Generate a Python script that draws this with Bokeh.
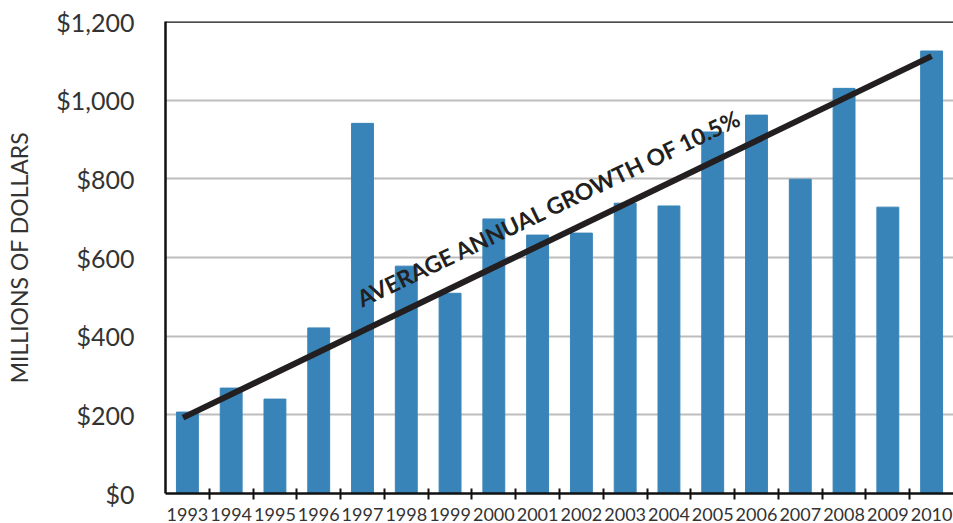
import math
from bokeh.plotting import figure
from bokeh.models import Range1d, FixedTicker, NumeralTickFormatter, Span
from bokeh.core.properties import value
from bokeh.embed import file_html
from bokeh.resources import INLINE

# ---- data ----
years = list(range(1993, 2011))
revenue = [207, 268, 240, 421, 941, 578, 509, 698, 657, 662, 738, 731,
           919, 962, 799, 1030, 728, 1125]
trend_years = [1992.9, 2010]
trend_values = [193, 1112]
trend_label = "AVERAGE ANNUAL GROWTH OF 10.5%"
label_start_year = 1997.2
y_ticks = [0, 200, 400, 600, 800, 1000, 1200]
y_axis_title = "MILLIONS OF DOLLARS"

FONT = "Lato"
TEXT_COLOR = "#333333"
BAR_COLOR = "#3884b8"
W, H = 953, 523
BORDER_L, BORDER_T = 165, 21
BELOW_PANEL = 31
x_start, x_end = 1992.5, 2010.5
y_max = 1200
frame_w = W - BORDER_L
frame_h = H - BORDER_T - BELOW_PANEL
px_per_year = frame_w / (x_end - x_start)

p = figure(width=W, height=H, x_range=Range1d(x_start, x_end),
           y_range=Range1d(0, y_max), output_backend="svg",
           toolbar_location=None, min_border_left=BORDER_L,
           min_border_top=BORDER_T, min_border_right=0, min_border_bottom=0)
p.outline_line_color = None
p.background_fill_color = "white"
p.border_fill_color = "white"

# bars
p.vbar(x=years, top=revenue, width=0.5, color=BAR_COLOR)

# grid
p.xgrid.visible = False
p.ygrid.ticker = FixedTicker(ticks=y_ticks)
p.ygrid.grid_line_color = "#bdbdbd"
p.ygrid.grid_line_width = 2

# top border
p.add_layout(Span(location=y_max, dimension="width", line_color="#111111",
                  line_width=2.5))

# y axis
ya = p.yaxis[0]
ya.ticker = FixedTicker(ticks=y_ticks)
ya.formatter = NumeralTickFormatter(format="$0,0")
ya.major_tick_in = 0
ya.major_tick_out = 0
ya.minor_tick_in = 0
ya.minor_tick_out = 0
ya.axis_line_width = 2.5
ya.axis_line_color = "#111111"
ya.major_label_text_font = FONT
ya.major_label_text_font_size = "25px"
ya.major_label_text_color = TEXT_COLOR
ya.major_label_standoff = 31
ya.axis_label = y_axis_title
ya.axis_label_text_font = FONT
ya.axis_label_text_font_style = "normal"
ya.axis_label_text_font_size = "23px"
ya.axis_label_text_color = TEXT_COLOR
ya.axis_label_standoff = 20

# x axis: labels at bar centres, ticks at boundaries
xa = p.xaxis[0]
xa.ticker = FixedTicker(ticks=years, minor_ticks=[y + 0.5 for y in years[:-1]])
xa.major_tick_in = 0
xa.major_tick_out = 0
xa.minor_tick_in = 5
xa.minor_tick_out = 6
xa.minor_tick_line_width = 2
xa.minor_tick_line_color = "#111111"
xa.axis_line_width = 2.5
xa.axis_line_color = "#111111"
xa.major_label_text_font = FONT
xa.major_label_text_font_size = "18px"
xa.major_label_text_color = TEXT_COLOR
xa.major_label_standoff = 8

# trend line
p.line(trend_years, trend_values, line_width=6, color="#231f20")

# trend label, rotated along the line
px_per_dollar = frame_h / y_max
slope = (trend_values[1] - trend_values[0]) / (trend_years[1] - trend_years[0])
theta = math.atan(slope * px_per_dollar / px_per_year)
y_on_line = trend_values[0] + slope * (label_start_year - trend_years[0])
d = 30
lx = label_start_year - d * math.sin(theta) / px_per_year
ly = y_on_line + d * math.cos(theta) / px_per_dollar
p.text(x=[lx], y=[ly], text=[trend_label], angle=theta,
       text_font=value(FONT), text_font_style="bold", text_font_size="23px",
       text_color="#231f20", text_baseline="alphabetic", text_align="left")

open("out.html", "w").write(file_html(p, INLINE))
